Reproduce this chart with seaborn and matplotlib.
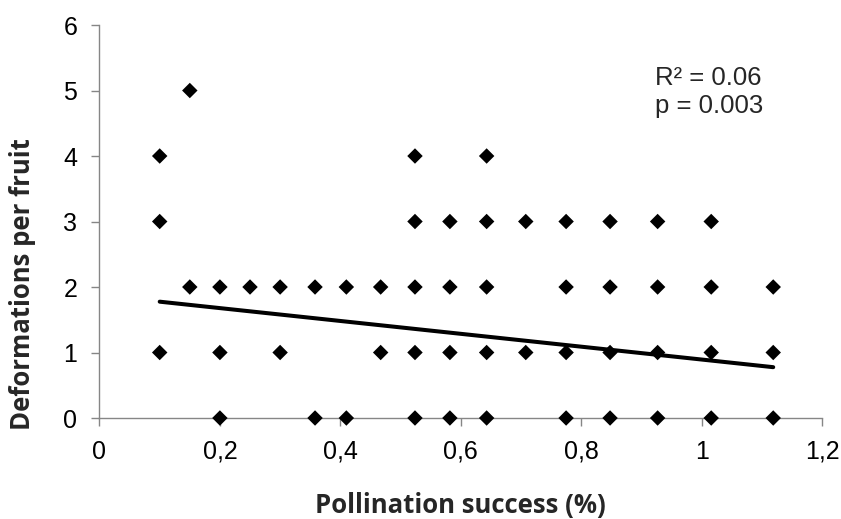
import matplotlib
matplotlib.use("Agg")
import matplotlib.pyplot as plt
import seaborn as sns
import pandas as pd
from matplotlib.ticker import FuncFormatter

# Pollination success (%) and deformation counts per fruit
pollination = [
    0.10, 0.10, 0.10,
    0.15, 0.15,
    0.20, 0.20, 0.20,
    0.25,
    0.30, 0.30,
    0.358, 0.358,
    0.41, 0.41,
    0.467, 0.467,
    0.524, 0.524, 0.524, 0.524, 0.524,
    0.582, 0.582, 0.582, 0.582,
    0.643, 0.643, 0.643, 0.643, 0.643,
    0.708, 0.708,
    0.775, 0.775, 0.775, 0.775,
    0.848, 0.848, 0.848, 0.848,
    0.927, 0.927, 0.927, 0.927,
    1.016, 1.016, 1.016, 1.016,
    1.119, 1.119, 1.119,
]
deformations = [
    4, 3, 1,
    5, 2,
    2, 1, 0,
    2,
    2, 1,
    2, 0,
    2, 0,
    2, 1,
    4, 3, 2, 1, 0,
    3, 2, 1, 0,
    4, 3, 2, 1, 0,
    3, 1,
    3, 2, 1, 0,
    3, 2, 1, 0,
    3, 2, 1, 0,
    3, 2, 1, 0,
    2, 1, 0,
]

# Linear trend (fitted values at the ends of the data range)
trend_x = [0.10, 1.119]
trend_y = [1.776, 0.776]

stats_lines = ["R² = 0.06", "p = 0.003"]

df = pd.DataFrame({"x": pollination, "y": deformations})
trend = pd.DataFrame({"x": trend_x, "y": trend_y})

sns.set_style("white")
plt.rcParams["font.family"] = ["Liberation Sans", "DejaVu Sans"]

fig = plt.figure(figsize=(8.41, 5.19), dpi=100)
ax = fig.add_axes([0.1183, 0.1946, 0.8591, 0.7572])

sns.scatterplot(data=df, x="x", y="y", ax=ax, marker="D", s=62,
                color="black", edgecolor="none", zorder=3, clip_on=False)
sns.lineplot(data=trend, x="x", y="y", ax=ax, color="black",
             linewidth=2.9, zorder=4)

ax.set_xlim(0, 1.2)
ax.set_ylim(0, 6)
ax.set_xticks([0, 0.2, 0.4, 0.6, 0.8, 1.0, 1.2])
ax.set_yticks(range(0, 7))
ax.xaxis.set_major_formatter(
    FuncFormatter(lambda v, p: ("%g" % round(v, 2)).replace(".", ",")))

for side in ("top", "right"):
    ax.spines[side].set_visible(False)
for side in ("left", "bottom"):
    ax.spines[side].set_color("#868686")
    ax.spines[side].set_linewidth(1.0)

ax.tick_params(axis="both", direction="out", length=5.5, width=1,
               color="#868686", labelsize=18, labelcolor="black",
               left=True, bottom=True)
ax.tick_params(axis="x", pad=10)
ax.tick_params(axis="y", pad=10.5)

label_font = dict(fontsize=18.5, fontweight="bold",
                  family=["Open Sans", "DejaVu Sans"])
ax.set_xlabel("Pollination success (%)", **label_font)
ax.set_ylabel("Deformations per fruit", **label_font)
ax.xaxis.label.set(va="baseline", ha="center")
ax.xaxis.set_label_coords(0.5, -0.241)
ax.yaxis.label.set(va="center", ha="center")
ax.yaxis.set_label_coords(-0.106, 0.341)

ax.text(0.923, 5.084, stats_lines[0], fontsize=18.5, va="baseline", ha="left")
ax.text(0.923, 4.656, stats_lines[1], fontsize=18.5, va="baseline", ha="left")

fig.savefig("out.png", dpi=100)
